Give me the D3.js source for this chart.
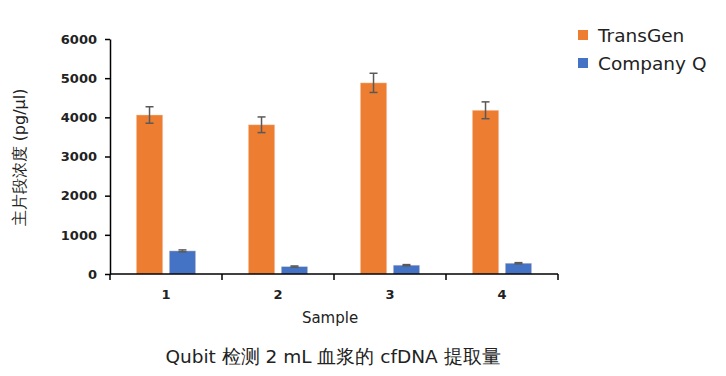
<!DOCTYPE html>
<html>
<head>
<meta charset="utf-8">
<script src="https://cdn.jsdelivr.net/npm/d3@7"></script>
<style>
  body { margin: 0; background: #fff; }
  svg text { font-family: "DejaVu Sans", "Liberation Sans", sans-serif; }
</style>
</head>
<body>
<svg id="chart" width="726" height="376"></svg>
<script>
const samples = ["1", "2", "3", "4"];
const seriesNames = ["TransGen", "Company Q"];
const transGen = [4060, 3810, 4880, 4180];
const transGenErr = [210, 200, 245, 215];
const companyQ = [590, 190, 225, 275];
const companyQErr = [25, 15, 15, 15];
const yTicks = [0, 1000, 2000, 3000, 4000, 5000, 6000];

const colors = ["#ED7D31", "#4472C4"];
const margin = { left: 110, top: 39, right: 168, bottom: 102 };
const width = 726 - margin.left - margin.right;
const height = 376 - margin.top - margin.bottom;

const svg = d3.select("#chart");
const g = svg.append("g").attr("transform", `translate(${margin.left},${margin.top})`);

const x = d3.scaleBand().domain(samples).range([0, width]).paddingInner(0).paddingOuter(0);
const xs = d3.scaleBand().domain(seriesNames).range([0, x.bandwidth()]).paddingInner(0.2).paddingOuter(0.8);
const y = d3.scaleLinear().domain([0, 6000]).range([height, 0]);

// rows built from the arrays
const rows = samples.map((s, i) => ({
  sample: s,
  vals: [
    { name: seriesNames[0], v: transGen[i], e: transGenErr[i], c: colors[0] },
    { name: seriesNames[1], v: companyQ[i], e: companyQErr[i], c: colors[1] }
  ]
}));

const groups = g.selectAll(".grp").data(rows).enter().append("g")
  .attr("transform", d => `translate(${x(d.sample)},0)`);

groups.selectAll("rect").data(d => d.vals).enter().append("rect")
  .attr("x", d => xs(d.name))
  .attr("width", xs.bandwidth())
  .attr("y", d => y(d.v))
  .attr("height", d => height - y(d.v))
  .attr("fill", d => d.c)
  .attr("stroke", "#fbe0d0")
  .attr("stroke-opacity", 0.5)
  .attr("stroke-width", 0.8);

// error bars
const eb = groups.selectAll(".eb").data(d => d.vals).enter().append("g")
  .attr("stroke", "#595959").attr("stroke-width", 1.5);
eb.append("line")
  .attr("x1", d => xs(d.name) + xs.bandwidth() / 2)
  .attr("x2", d => xs(d.name) + xs.bandwidth() / 2)
  .attr("y1", d => y(d.v + d.e)).attr("y2", d => y(d.v - d.e));
eb.append("line")
  .attr("x1", d => xs(d.name) + xs.bandwidth() / 2 - 4)
  .attr("x2", d => xs(d.name) + xs.bandwidth() / 2 + 4)
  .attr("y1", d => y(d.v + d.e)).attr("y2", d => y(d.v + d.e));
eb.append("line")
  .attr("x1", d => xs(d.name) + xs.bandwidth() / 2 - 4)
  .attr("x2", d => xs(d.name) + xs.bandwidth() / 2 + 4)
  .attr("y1", d => y(d.v - d.e)).attr("y2", d => y(d.v - d.e));

// y axis
const yAxis = g.append("g").call(d3.axisLeft(y).tickValues(yTicks).tickFormat(d3.format("d"))
  .tickSize(5).tickSizeOuter(0).tickPadding(8));
yAxis.select(".domain").attr("stroke", "#000").attr("stroke-width", 1.5);
yAxis.selectAll(".tick line").attr("stroke", "#000").attr("stroke-width", 1.5);
yAxis.selectAll("text").attr("font-size", 13).attr("font-weight", "bold").attr("fill", "#222")
  .attr("font-family", "DejaVu Sans");

// x axis with ticks at category boundaries
const xAxis = g.append("g").attr("transform", `translate(0,${height})`);
xAxis.append("line").attr("x1", 0).attr("x2", width).attr("stroke", "#000").attr("stroke-width", 1.5);
const bounds = samples.map(s => x(s)).concat([width]);
xAxis.selectAll(".xt").data(bounds).enter().append("line")
  .attr("x1", d => d).attr("x2", d => d).attr("y1", 0).attr("y2", 6)
  .attr("stroke", "#000").attr("stroke-width", 1.5);
xAxis.selectAll(".xl").data(samples).enter().append("text")
  .attr("x", d => x(d) + x.bandwidth() / 2).attr("y", 25)
  .attr("text-anchor", "middle").attr("font-size", 13).attr("font-weight", "bold").attr("fill", "#222")
  .text(d => d);

// axis titles
svg.append("text")
  .attr("transform", `translate(25,${margin.top + height / 2 + 1}) rotate(-90)`)
  .attr("text-anchor", "middle").attr("font-size", 16).attr("fill", "#222")
  .text("主片段浓度 (pg/µl)");
svg.append("text")
  .attr("x", 330).attr("y", 323)
  .attr("text-anchor", "middle").attr("font-size", 15).attr("fill", "#222")
  .text("Sample");
svg.append("text")
  .attr("x", 333).attr("y", 363)
  .attr("text-anchor", "middle").attr("font-size", 18.5).attr("fill", "#222")
  .text("Qubit 检测 2 mL 血浆的 cfDNA 提取量");

// legend
const legend = svg.selectAll(".legend").data(seriesNames).enter().append("g")
  .attr("transform", (d, i) => `translate(583,${35 + i * 28})`);
legend.append("rect").attr("x", -5).attr("y", -5).attr("width", 10).attr("height", 10)
  .attr("fill", (d, i) => colors[i]);
legend.append("text").attr("x", 15).attr("y", 6.5).attr("font-size", 18.5).attr("fill", "#222")
  .text(d => d);
</script>
</body>
</html>
